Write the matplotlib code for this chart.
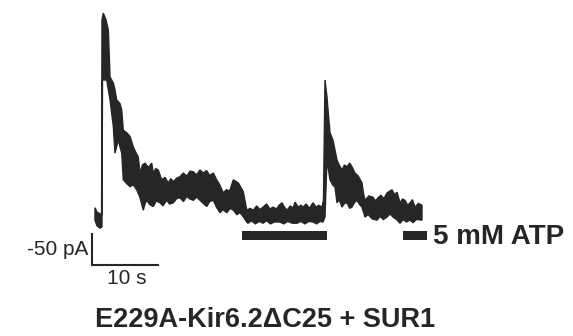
import numpy as np
import matplotlib
matplotlib.use("Agg")
import matplotlib.pyplot as plt

plt.rcParams["font.family"] = ["Liberation Sans", "DejaVu Sans"]

# current trace: upper and lower edge of the noisy band
# time in s, current amplitude in pA (upward = larger KATP current)
t_top = [0.3, 0.6, 1.1, 1.3, 1.36, 1.56, 1.97, 2.32, 2.58, 3.08, 3.3, 3.59,
         4.09, 4.35, 4.59, 5.11, 5.61, 6.11, 6.5, 6.86, 7.12, 7.5, 7.88, 8.4,
         8.89, 9.14, 9.5, 9.89, 10.41, 10.9, 11.41, 11.8, 12.17, 12.7, 13.18,
         13.68, 14.2, 14.7, 15.2, 15.7, 16.2, 16.71, 17.2, 17.7, 18.23, 18.74,
         19.2, 19.74, 20.2, 20.7, 21.26, 22.02, 22.77, 23.29, 23.8, 24.29,
         24.8, 25.3, 25.76, 26.3, 26.8, 27.27, 27.8, 28.2, 28.64, 29.0, 29.39,
         29.9, 30.3, 30.61, 31.1, 31.5, 31.82, 32.3, 32.8, 33.33, 33.8, 34.2,
         34.7, 34.92, 35.15, 35.45, 35.61, 35.91, 36.36, 36.97, 37.3, 37.73,
         38.1, 38.48, 38.9, 39.24, 39.7, 40.2, 40.76, 41.0, 41.21, 41.8, 42.42,
         42.8, 43.18, 43.6, 44.1, 44.55, 45.3, 45.7, 46.06, 46.52, 46.9, 47.27,
         47.7, 48.03, 48.4, 48.79, 49.3, 49.85]
i_top = [23, 16, 13, 11, 326, 337, 326, 310, 234, 224, 215, 197,
         191, 181, 148, 144, 138, 121, 112, 105, 79, 92, 95, 88,
         95, 79, 86, 84, 68, 72, 63, 70, 65, 71, 73,
         79, 74, 82, 81, 76, 84, 79, 83, 75, 79, 68,
         60, 47, 52, 50, 68, 63, 49, 19, 22, 19,
         26, 20, 24, 29, 21, 24, 21, 27, 31, 24, 19,
         26, 22, 32, 24, 27, 24, 29, 22, 31, 24, 27,
         24, 35, 229, 202, 181, 144, 132, 100, 92, 84,
         92, 89, 95, 89, 79, 74, 63, 45, 35, 42, 40,
         34, 39, 43, 38, 47, 52, 44, 48, 31, 37, 35,
         27, 31, 36, 24, 30, 27]

t_bot = [0.3, 0.6, 1.06, 1.36, 1.44, 2.08, 2.58, 3.08, 3.33, 3.83, 4.35, 4.59,
         5.1, 5.61, 6.1, 6.62, 7.1, 7.62, 7.9, 8.14, 8.6, 9.14, 9.6, 10.15,
         10.6, 11.17, 11.6, 12.17, 12.7, 13.18, 13.7, 14.2, 14.7, 15.2, 15.7,
         16.21, 16.7, 17.23, 17.7, 18.23, 18.7, 19.24, 19.7, 20.26, 20.8,
         21.26, 21.8, 22.27, 22.8, 23.29, 23.48, 24.0, 24.6, 25.2, 25.76,
         26.3, 26.9, 27.5, 28.33, 28.9, 29.5, 30.2, 30.91, 31.5, 32.1, 32.7,
         33.33, 33.9, 34.4, 34.85, 35.15, 35.45, 35.91, 36.3, 36.67, 36.97,
         37.3, 37.73, 38.1, 38.48, 38.9, 39.24, 39.6, 40.0, 40.4, 40.76, 41.21,
         41.7, 42.3, 43.03, 43.5, 44.0, 44.55, 45.0, 45.45, 46.0, 46.52, 47.0,
         47.5, 48.03, 48.5, 49.0, 49.85]
i_bot = [3, -6, -10, -8, 229, 229, 197, 154, 111, 132, 111, 68,
         62, 57, 60, 52, 40, 19, 30, 35, 28, 25, 34, 31,
         26, 35, 29, 31, 38, 39, 33, 41, 37, 35, 40,
         35, 30, 25, 33, 35, 24, 15, 20, 15, 22,
         19, 12, 15, 8, 0, -2, 2, -3, 1, -2,
         2, -3, 0, 0, -3, 1, -2, -2, 1, -3, 1,
         0, -3, 1, 0, 8, 100, 68, 60, 56, 31,
         36, 24, 30, 31, 22, 24, 31, 35, 28, 24, 8,
         12, 5, 3, 9, 4, 8, 13, 8, 4, -2, 4,
         0, 3, -1, 4, 3]

# ATP application periods (s)
atp_on = [(22.6, 35.5), (47.0, 50.6)]
atp_label = "5 mM ATP"

# scale bar
scale_t = 10    # s
scale_i = 50    # pA
title = "E229A-Kir6.2\u0394C25 + SUR1"

ink = "#262626"

fig = plt.figure(figsize=(5.73, 3.36), dpi=100)
ax = fig.add_axes([0, 0, 1, 1])
ax.set_xlim(-93 / 6.6, (573 - 93) / 6.6)
ax.set_ylim(-(336 - 222) / 0.62, 222 / 0.62)
ax.axis("off")

# trace band
xs = np.r_[t_top, t_bot[::-1]]
ys = np.r_[i_top, i_bot[::-1]]
ax.fill(xs, ys, color=ink, lw=1.0, ec=ink, joinstyle="miter")

# ATP bars
for t0, t1 in atp_on:
    ax.fill_between([t0, t1], -29, -14.5, color=ink, lw=0)
ax.text(atp_on[-1][1] + 0.9, -24, atp_label, fontsize=20, fontweight="bold",
        color=ink, ha="left", va="center")

# scale bars
x0, y0 = -0.15, -69
ax.plot([x0, x0, x0 + scale_t], [y0 + scale_i, y0, y0], color=ink, lw=1.5,
        solid_joinstyle="miter")
ax.text(x0 - 0.6, y0 + scale_i * 0.5, f"-{scale_i} pA", fontsize=15,
        color=ink, ha="right", va="center")
ax.text(x0 + scale_t / 2 + 0.3, y0 - 6, f"{scale_t} s", fontsize=15,
        color=ink, ha="center", va="top")

ax.text(26, -158, title, fontsize=19.5, fontweight="bold", color=ink,
        ha="center", va="center")

fig.savefig("out.png", dpi=100, facecolor="white")
